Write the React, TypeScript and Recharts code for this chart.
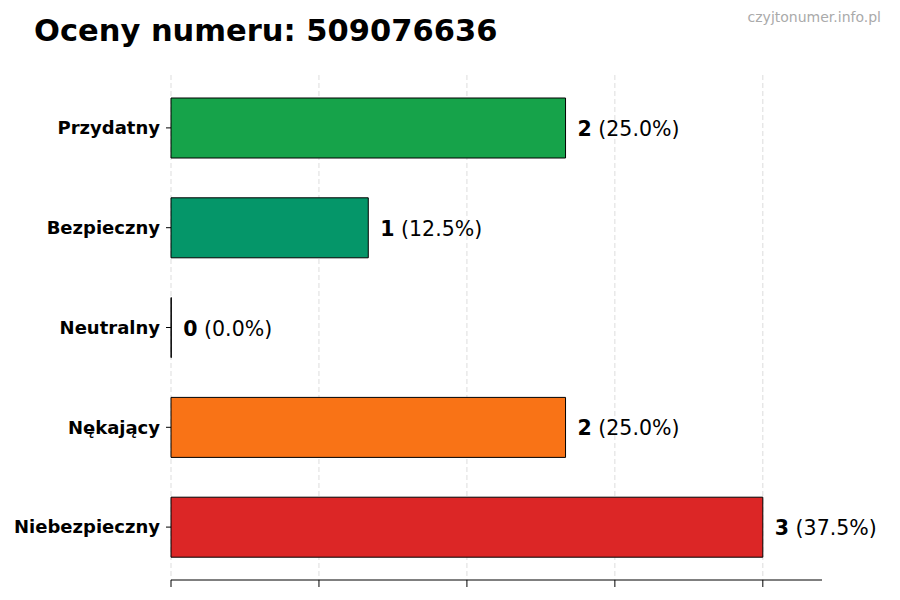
import { Bar, BarChart, CartesianGrid, Cell, LabelList, XAxis, YAxis } from "recharts";

const categories = ["Przydatny", "Bezpieczny", "Neutralny", "Nękający", "Niebezpieczny"];
const counts = [2, 1, 0, 2, 3];
const colors = ["#16a34a", "#059669", "#6b7280", "#f97316", "#dc2626"];
const xTicks = [0, 0.75, 1.5, 2.25, 3];
const xDomain = [0, 3.3];

const total = counts.reduce((a, b) => a + b, 0);
const data = categories.map((name, i) => ({ name, value: counts[i] }));

const FONT = "'DejaVu Sans', sans-serif";

function ValueLabel(props: any) {
  const { x, y, width, height, value } = props;
  const pct = total ? ((value / total) * 100).toFixed(1) : "0.0";
  return (
    <text
      x={Number(x) + Number(width) + 12}
      y={Number(y) + Number(height) / 2 + 1}
      dominantBaseline="central"
      fontSize={20.5}
      fontFamily={FONT}
      fill="#000"
    >
      <tspan fontWeight="bold">{value}</tspan>
      <tspan> ({pct}%)</tspan>
    </text>
  );
}

// grid only at the tick values (no line at the right edge of the domain)
function gridX({ xAxis, offset }: any) {
  if (xAxis && typeof xAxis.scale === "function") return xTicks.map((t) => xAxis.scale(t));
  return xTicks.map((t) => offset.left + ((t - xDomain[0]) / (xDomain[1] - xDomain[0])) * offset.width);
}

export default function App() {
  return (
    <div style={{ position: "absolute", left: 0, top: 0, width: 900, height: 600, background: "#fff", fontFamily: FONT }}>
      <div style={{ position: "absolute", left: 34, top: 13, fontSize: 30.5, fontWeight: "bold", color: "#000", whiteSpace: "nowrap" }}>
        Oceny numeru: 509076636
      </div>
      <div style={{ position: "absolute", right: 19, top: 9, fontSize: 14, color: "#aaa" }}>
        czyjtonumer.info.pl
      </div>
      <BarChart
        width={900}
        height={600}
        data={data}
        layout="vertical"
        margin={{ top: 75, right: 78, bottom: 0, left: 0 }}
        barSize={60}
      >
        <CartesianGrid
          horizontal={false}
          strokeDasharray="5 3"
          stroke="#dddddd"
          verticalCoordinatesGenerator={gridX}
        />
        <XAxis
          type="number"
          domain={xDomain}
          ticks={xTicks}
          height={20}
          tickSize={7}
          tickFormatter={() => ""}
          axisLine={{ stroke: "#000" }}
          tickLine={{ stroke: "#000" }}
        />
        <YAxis
          type="category"
          dataKey="name"
          width={171}
          padding={{ top: 3, bottom: 3 }}
          axisLine={false}
          tickSize={5}
          tickMargin={6}
          tickLine={{ stroke: "#000" }}
          tick={{ fontSize: 18, fontWeight: "bold", fill: "#000", fontFamily: FONT }}
        />
        <Bar dataKey="value" stroke="#000" strokeWidth={1} minPointSize={0.3} isAnimationActive={false}>
          {data.map((d, i) => (
            <Cell key={d.name} fill={colors[i]} />
          ))}
          <LabelList dataKey="value" content={ValueLabel} />
        </Bar>
      </BarChart>
    </div>
  );
}
